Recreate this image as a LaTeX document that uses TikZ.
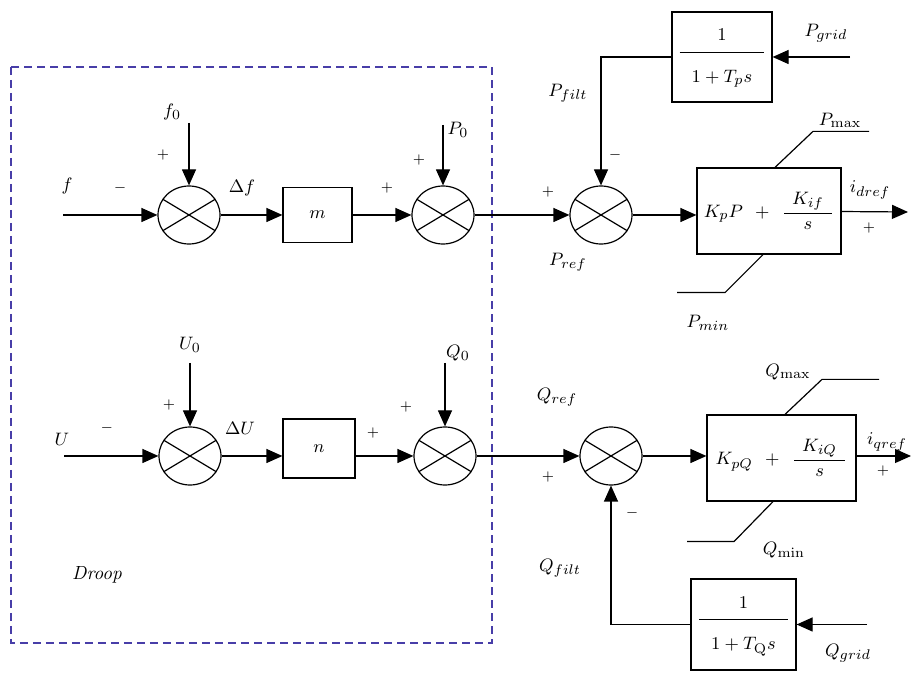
\documentclass[tikz,border=0pt]{standalone}
\usepackage{amsmath}
\usepackage{tikz}
\usetikzlibrary{arrows.meta, shapes.geometric, calc}
\definecolor{DroopBlue}{RGB}{72, 62, 168}
\tikzset{
  sumj/.style={ellipse, draw, minimum width=31pt, minimum height=29pt,
    inner sep=0pt,
    path picture={\draw (path picture bounding box.center) ++(-30pt,18pt)
      -- ++(60pt,-36pt) (path picture bounding box.center) ++(-30pt,-18pt)
      -- ++(60pt,36pt);}},
  blk/.style={rectangle, draw, inner sep=0pt, text centered},
  lbl/.style={inner sep=0pt},
  sgn/.style={inner sep=0pt, font=\fontsize{7}{8}\selectfont},
  arr/.style={-{Triangle[length=8pt, width=7pt]}},
  droopbox/.style={draw=DroopBlue, dash pattern=on 4pt off 2.5pt},
}

\begin{document}
\begin{tikzpicture}[x=0.5pt, y=-0.5pt, line width=0.6pt,
                    font=\fontsize{9.5}{11.5}\selectfont]
  \useasboundingbox (0,0) rectangle (912,673);
  \draw[droopbox] (11,67) rectangle (492,643);
  \node[sumj] (sf) at (189,215) {};
  \node[blk, minimum width=34.5pt, minimum height=27.5pt] (blkm) at (317.5,215) {$m$};
  \node[sumj] (sp0) at (443,215) {};
  \node[sumj] (sp) at (601,215) {};
  \node[blk, minimum width=50pt, minimum height=45pt] (fltp) at (722,57)
    {\begin{tabular}{@{\hspace{6pt}}c@{\hspace{6pt}}}$1$\\[2pt]\hline
     \rule{0pt}{15pt}$1+T_p s$\end{tabular}};
  \node[blk, minimum width=72pt, minimum height=43pt] (pip) at (769,211)
    {$K_pP\hspace{4pt}+\hspace{4pt}\dfrac{\hspace{4pt}K_{if}\hspace{4pt}}{s}$};
  \coordinate (fin) at (63,215);
  \coordinate (f0in) at (189,123);
  \coordinate (p0in) at (443,125);
  \coordinate (pgrid) at (850,57);
  \coordinate (idout) at (908,212);
  \node[sumj] (su) at (190,456) {};
  \node[blk, minimum width=36pt, minimum height=29.5pt] (blkn) at (319,448.5) {$n$};
  \node[sumj] (sq0) at (445,456) {};
  \node[sumj] (sq) at (611,456) {};
  \node[blk, minimum width=74.5pt, minimum height=43pt] (piq) at (781.5,458)
    {$K_{pQ}\hspace{4pt}+\hspace{4pt}\dfrac{\hspace{4pt}K_{iQ}\hspace{4pt}}{s}$};
  \node[blk, minimum width=52.5pt, minimum height=45.5pt] (fltq) at (743.5,624.5)
    {\begin{tabular}{@{\hspace{6pt}}c@{\hspace{6pt}}}$1$\\[2pt]\hline
     \rule{0pt}{15pt}$1+T_{\mathrm{Q}} s$\end{tabular}};
  \coordinate (uin) at (64,456);
  \coordinate (u0in) at (190,363);
  \coordinate (q0in) at (445,363);
  \coordinate (qgrid) at (867,624.5);
  \coordinate (iqout) at (911,456);

  \draw[arr] (fin) -- (sf);
  \draw[arr] (f0in) -- (sf);
  \draw[arr] (sf) -- (blkm);
  \draw[arr] (blkm) -- (sp0);
  \draw[arr] (p0in) -- (sp0);
  \draw[arr] (sp0) -- (sp);
  \draw[arr] (pgrid) -- (fltp);
  \draw[arr] (fltp.west) -| (sp);
  \draw[arr] (sp) -- (sp -| pip.west);
  \draw[arr] (pip) -- (idout);
  \draw ([xshift=3pt]pip.north) -- ++(38,-36) -- ++(56,0);
  \draw ([xshift=-3pt]pip.south) -- ++(-38,38) -- ++(-48,0);

  \draw[arr] (uin) -- (su);
  \draw[arr] (u0in) -- (su);
  \draw[arr] (su) -- (su -| blkn.west);
  \draw[arr] (blkn.east |- sq0) -- (sq0);
  \draw[arr] (q0in) -- (sq0);
  \draw[arr] (sq0) -- (sq);
  \draw[arr] (sq) -- (sq -| piq.west);
  \draw[arr] (sq -| piq.east) -- (iqout);
  \draw[arr] (qgrid) -- (fltq);
  \draw[arr] (fltq.west) -| (sq);
  \draw ([xshift=1.75pt]piq.north) -- ++(37,-35) -- ++(57,0);
  \draw ([xshift=-4.25pt]piq.south) -- ++(-39,40) -- ++(-47,0);

  \node[lbl] (tf) at (67,186) {$f$};
  \node[sgn] (sgf) at (120,188) {$-$};
  \node[lbl] (tf0) at (172,112) {$f_0$};
  \node[sgn] (sgf0) at (163,155) {$+$};
  \node[lbl] (tdf) at (242,188) {$\Delta f$};
  \node[sgn] (sgm) at (387,188) {$+$};
  \node[lbl] (tp0) at (458,130) {$P_0$};
  \node[sgn] (sgp0) at (419,160) {$+$};
  \node[sgn] (sgpref) at (548,192) {$+$};
  \node[lbl] (tpref) at (568,262) {$P_{ref}$};
  \node[lbl] (tpfilt) at (568,93) {$P_{filt}$};
  \node[sgn] (sgpfilt) at (615,155) {$-$};
  \node[lbl] (tpgrid) at (826,33) {$P_{grid}$};
  \node[lbl] (tpmax) at (840,120) {$P_{\max}$};
  \node[lbl] (tpmin) at (708,323) {$P_{min}$};
  \node[lbl] (tid) at (870,190) {$i_{dref}$};
  \node[sgn] (sgid) at (869,228) {$+$};

  \node[lbl] (tu) at (62,439) {$U$};
  \node[sgn] (sgu) at (107,428) {$-$};
  \node[lbl] (tu0) at (190,345) {$U_0$};
  \node[sgn] (sgu0) at (169,405) {$+$};
  \node[lbl] (tdu) at (240,428) {$\Delta U$};
  \node[sgn] (sgn) at (373,433) {$+$};
  \node[lbl] (tq0) at (458,353) {$Q_0$};
  \node[sgn] (sgq0) at (406,407) {$+$};
  \node[lbl] (tqref) at (557,397) {$Q_{ref}$};
  \node[sgn] (sgqref) at (548,477) {$+$};
  \node[lbl] (tqfilt) at (560,568) {$Q_{filt}$};
  \node[sgn] (sgqfilt) at (632,513) {$-$};
  \node[lbl] (tqmax) at (788,372) {$Q_{\max}$};
  \node[lbl] (tqmin) at (784,550) {$Q_{\min}$};
  \node[lbl] (tiq) at (887,442) {$i_{qref}$};
  \node[sgn] (sgiq) at (883,471) {$+$};
  \node[lbl] (tqgrid) at (848,653) {$Q_{grid}$};
  \node[lbl] (tdroop) at (97,575) {\textit{Droop}};
\end{tikzpicture}
\end{document}
